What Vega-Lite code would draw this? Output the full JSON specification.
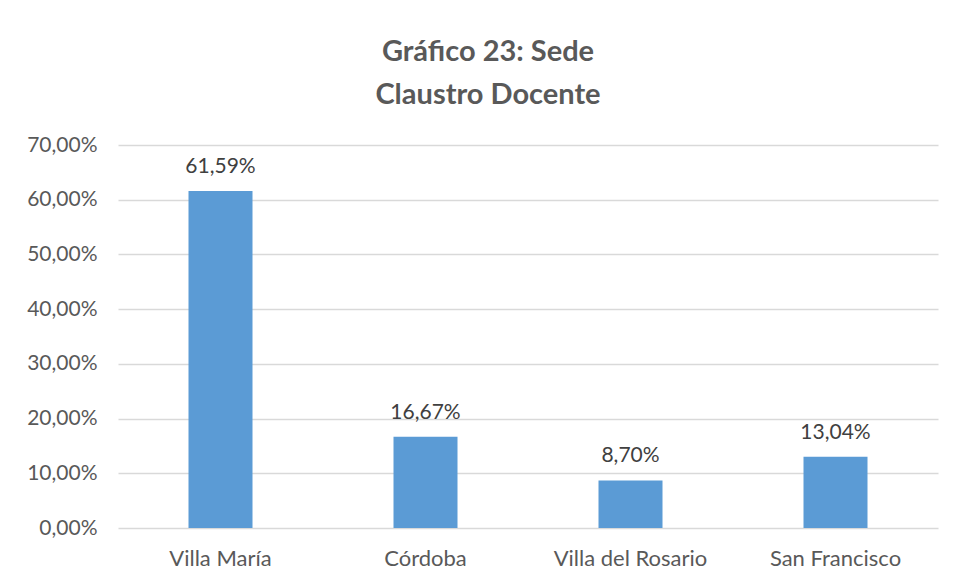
{
  "$schema": "https://vega.github.io/schema/vega-lite/v6.json",
  "width": 820,
  "height": 383,
  "autosize": {"type": "none"},
  "padding": {"left": 118, "top": 145, "right": 17, "bottom": 55},
  "background": "white",
  "config": {
    "font": "Lato",
    "view": {"stroke": null},
    "locale": {"number": {"decimal": ",", "thousands": ".", "grouping": [3], "currency": ["$", ""]}}
  },
  "title": {
    "text": ["Gráfico 23: Sede", "Claustro Docente"],
    "font": "Lato",
    "fontSize": 29,
    "fontWeight": "bold",
    "color": "#595959",
    "anchor": "middle",
    "dx": -40,
    "offset": 24,
    "lineHeight": 43
  },
  "data": {
    "values": [
      {"sede": "Villa María", "value": 0.6159},
      {"sede": "Córdoba", "value": 0.1667},
      {"sede": "Villa del Rosario", "value": 0.0870},
      {"sede": "San Francisco", "value": 0.1304}
    ]
  },
  "encoding": {
    "x": {
      "field": "sede",
      "type": "nominal",
      "sort": null,
      "scale": {"paddingInner": 0, "paddingOuter": 0},
      "axis": {
        "title": null,
        "labelAngle": 0,
        "labelFontSize": 22,
        "labelColor": "#595959",
        "labelFont": "Lato",
        "labelPadding": 20,
        "ticks": false,
        "domain": false
      }
    },
    "y": {
      "field": "value",
      "type": "quantitative",
      "scale": {"domain": [0, 0.7]},
      "axis": {
        "title": null,
        "values": [0, 0.1, 0.2, 0.3, 0.4, 0.5, 0.6, 0.7],
        "format": ".2%",
        "labelFontSize": 21,
        "labelColor": "#595959",
        "labelFont": "Lato",
        "labelPadding": 21,
        "ticks": false,
        "domain": false,
        "gridColor": "#d9d9d9",
        "gridWidth": 1.5
      }
    }
  },
  "layer": [
    {"mark": {"type": "bar", "color": "#5B9BD5", "size": 64}},
    {
      "mark": {"type": "text", "baseline": "bottom", "dy": -14, "fontSize": 21, "color": "#404040", "font": "Lato"},
      "encoding": {"text": {"field": "value", "type": "quantitative", "format": ".2%"}}
    }
  ]
}
